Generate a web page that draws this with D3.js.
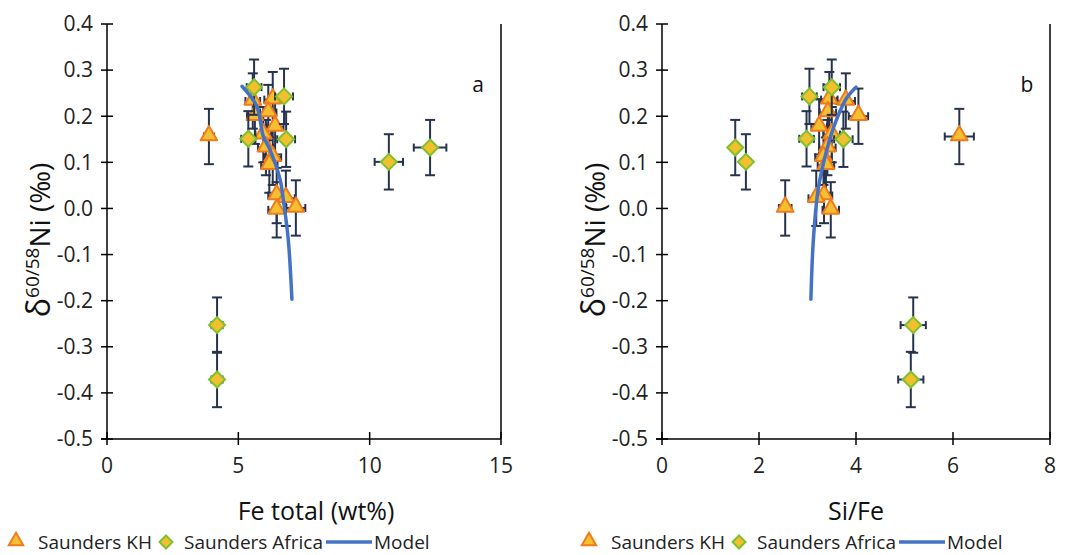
<!DOCTYPE html>
<html>
<head>
<meta charset="utf-8">
<script src="https://cdn.jsdelivr.net/npm/d3@7"></script>
<style>
  body { margin: 0; background: #fff; }
  svg { display: block; font-family: "Open Sans", "Liberation Sans", sans-serif; }
</style>
</head>
<body>
<svg width="1070" height="555"></svg>
<script>
// Saunders KH (triangles)
var khDelta = [0.156, 0.236, 0.233, 0.208, 0.200, 0.177, 0.160, 0.132, 0.111, 0.094, 0.028, 0.022, -0.003, 0.001];
var khFe    = [3.88, 6.31, 5.55, 6.14, 5.63, 6.40, 5.95, 6.05, 6.31, 6.18, 6.46, 6.81, 6.46, 7.19];
var khFeErr = [0.19, 0.32, 0.28, 0.31, 0.30, 0.32, 0.30, 0.30, 0.32, 0.31, 0.32, 0.34, 0.32, 0.36];
var khSiFe  = [6.13, 3.45, 3.79, 3.42, 4.05, 3.24, 3.50, 3.41, 3.33, 3.38, 3.34, 3.18, 3.48, 2.54];
var khSiFeErr = [0.30, 0.17, 0.19, 0.17, 0.20, 0.16, 0.17, 0.17, 0.17, 0.17, 0.17, 0.16, 0.17, 0.13];

// Saunders Africa (diamonds)
var afDelta = [0.263, 0.243, 0.151, 0.150, 0.101, 0.132, -0.253, -0.371];
var afFe    = [5.60, 6.74, 5.38, 6.82, 10.73, 12.30, 4.19, 4.19];
var afFeErr = [0.28, 0.34, 0.27, 0.34, 0.54, 0.62, 0.21, 0.21];
var afSiFe  = [3.50, 3.04, 2.98, 3.74, 1.73, 1.51, 5.18, 5.13];
var afSiFeErr = [0.17, 0.15, 0.15, 0.19, 0.09, 0.08, 0.26, 0.26];

var deltaErr = 0.06;

// model curves
var modelFe = [5.14, 5.70, 5.95, 6.20, 6.59, 6.71, 6.90, 7.04];
var modelFeDelta = [0.265, 0.222, 0.157, 0.128, 0.063, 0.020, -0.067, -0.197];
var modelSiFe = [3.07, 3.12, 3.22, 3.40, 3.60, 3.81, 4.00];
var modelSiFeDelta = [-0.197, -0.070, 0.041, 0.128, 0.193, 0.240, 0.263];

var yTicks = [0.4, 0.3, 0.2, 0.1, 0.0, -0.1, -0.2, -0.3, -0.4, -0.5];

var svg = d3.select("svg");

var panels = [
  { left: 107, right: 501, xmax: 15, xticks: [0, 5, 10, 15], title: "Fe total (wt%)", tag: "a", titleX: 316,
    kh: khFe, khErr: khFeErr, af: afFe, afErr: afFeErr, mx: modelFe, my: modelFeDelta, dx: 0, lx: 0 },
  { left: 662, right: 1050, xmax: 8, xticks: [0, 2, 4, 6, 8], title: "Si/Fe", tag: "b", titleX: 856,
    kh: khSiFe, khErr: khSiFeErr, af: afSiFe, afErr: afSiFeErr, mx: modelSiFe, my: modelSiFeDelta, dx: 555, lx: 573 }
];

var plotTop = 24, plotBottom = 439;
var y = d3.scaleLinear().domain([-0.5, 0.4]).range([plotBottom, plotTop]);

var ink = "#000", errColor = "#26334d";
var triFill = "#f4c032", triStroke = "#f07b1c";
var diaFill = "#f2bf2e", diaStroke = "#7dc22e";
var lineColor = "#4472c4";

var tri = d3.symbol().type(d3.symbolTriangle).size(120);
var dia = function(s) { return "M0," + (-s) + "L" + s + ",0L0," + s + "L" + (-s) + ",0Z"; };

panels.forEach(function(p) {
  var x = d3.scaleLinear().domain([0, p.xmax]).range([p.left, p.right]);
  var g = svg.append("g");

  // axes
  g.append("line").attr("x1", p.left).attr("x2", p.left).attr("y1", plotTop).attr("y2", plotBottom)
    .attr("stroke", ink).attr("stroke-width", 1.5);
  g.append("line").attr("x1", p.right).attr("x2", p.right).attr("y1", plotTop).attr("y2", plotBottom)
    .attr("stroke", ink).attr("stroke-width", 1.5);
  g.append("line").attr("x1", p.left - 6).attr("x2", p.right).attr("y1", plotBottom).attr("y2", plotBottom)
    .attr("stroke", ink).attr("stroke-width", 1.5);

  yTicks.forEach(function(t) {
    g.append("line").attr("x1", p.left - 6).attr("x2", p.left + 6).attr("y1", y(t)).attr("y2", y(t))
      .attr("stroke", ink).attr("stroke-width", 1.5);
    g.append("text").attr("x", p.left - 14).attr("y", y(t)).attr("dy", "0.35em")
      .attr("text-anchor", "end").attr("font-size", 21).attr("fill", "#222")
      .text(t.toFixed(1));
  });

  p.xticks.forEach(function(t) {
    g.append("line").attr("x1", x(t)).attr("x2", x(t)).attr("y1", plotBottom - 7).attr("y2", plotBottom + 6)
      .attr("stroke", ink).attr("stroke-width", 1.5);
    g.append("text").attr("x", x(t)).attr("y", plotBottom + 34)
      .attr("text-anchor", "middle").attr("font-size", 21).attr("fill", "#222")
      .text(t);
  });

  // axis titles
  g.append("text").attr("x", p.titleX).attr("y", 520)
    .attr("text-anchor", "middle").attr("font-size", 25).attr("fill", "#111").text(p.title);

  var yt = g.append("text").attr("transform", "translate(" + (p.dx + 50) + ",240) rotate(-90)")
    .attr("text-anchor", "middle").attr("font-size", 28).attr("fill", "#111");
  yt.append("tspan").attr("font-size", 32).text("δ");
  yt.append("tspan").attr("font-size", 19).attr("dy", -11).text("60/58");
  yt.append("tspan").attr("dy", 11).text("Ni (‰)");

  g.append("text").attr("x", p.right - 23).attr("y", 92).attr("text-anchor", "middle")
    .attr("font-size", 21).attr("fill", "#111").text(p.tag);

  // error bars
  function errBars(xs, xe, ds) {
    xs.forEach(function(v, i) {
      var cx = x(v), cy = y(ds[i]);
      var y1 = y(ds[i] + deltaErr), y2 = y(ds[i] - deltaErr);
      var x1 = x(v - xe[i]), x2 = x(v + xe[i]);
      var eg = g.append("g").attr("stroke", errColor).attr("stroke-width", 2);
      eg.append("line").attr("x1", cx).attr("x2", cx).attr("y1", y1).attr("y2", y2);
      eg.append("line").attr("x1", cx - 5).attr("x2", cx + 5).attr("y1", y1).attr("y2", y1);
      eg.append("line").attr("x1", cx - 5).attr("x2", cx + 5).attr("y1", y2).attr("y2", y2);
      eg.append("line").attr("x1", x1).attr("x2", x2).attr("y1", cy).attr("y2", cy);
      eg.append("line").attr("x1", x1).attr("x2", x1).attr("y1", cy - 4).attr("y2", cy + 4);
      eg.append("line").attr("x1", x2).attr("x2", x2).attr("y1", cy - 4).attr("y2", cy + 4);
    });
  }

  errBars(p.kh, p.khErr, khDelta);
  p.kh.forEach(function(v, i) {
    g.append("path").attr("d", tri).attr("transform", "translate(" + x(v) + "," + (y(khDelta[i]) - 1) + ")")
      .attr("fill", triFill).attr("stroke", triStroke).attr("stroke-width", 2).attr("stroke-linejoin", "round");
  });

  errBars(p.af, p.afErr, afDelta);
  p.af.forEach(function(v, i) {
    g.append("path").attr("d", dia(8)).attr("transform", "translate(" + x(v) + "," + y(afDelta[i]) + ")")
      .attr("fill", diaFill).attr("stroke", diaStroke).attr("stroke-width", 2);
  });

  // model
  var pts = p.mx.map(function(v, i) { return [x(v), y(p.my[i])]; });
  g.append("path").datum(pts)
    .attr("d", d3.line().curve(d3.curveCatmullRom))
    .attr("fill", "none").attr("stroke", lineColor).attr("stroke-width", 3.5).attr("stroke-linecap", "round");

  // legend
  var lg = g.append("g").attr("transform", "translate(" + p.lx + ",542)");
  lg.append("path").attr("d", d3.symbol().type(d3.symbolTriangle).size(90)).attr("transform", "translate(16,-1)")
    .attr("fill", triFill).attr("stroke", triStroke).attr("stroke-width", 2);
  lg.append("text").attr("x", 38).attr("y", 0).attr("dy", "0.35em").attr("font-size", 19).attr("fill", "#222")
    .text("Saunders KH");
  lg.append("path").attr("d", dia(6.5)).attr("transform", "translate(166,0)")
    .attr("fill", diaFill).attr("stroke", diaStroke).attr("stroke-width", 2);
  lg.append("text").attr("x", 184).attr("y", 0).attr("dy", "0.35em").attr("font-size", 19).attr("fill", "#222")
    .text("Saunders Africa");
  lg.append("line").attr("x1", 326).attr("x2", 372).attr("y1", 0).attr("y2", 0)
    .attr("stroke", lineColor).attr("stroke-width", 3.5);
  lg.append("text").attr("x", 374).attr("y", 0).attr("dy", "0.35em").attr("font-size", 19).attr("fill", "#222")
    .text("Model");
});
</script>
</body>
</html>
